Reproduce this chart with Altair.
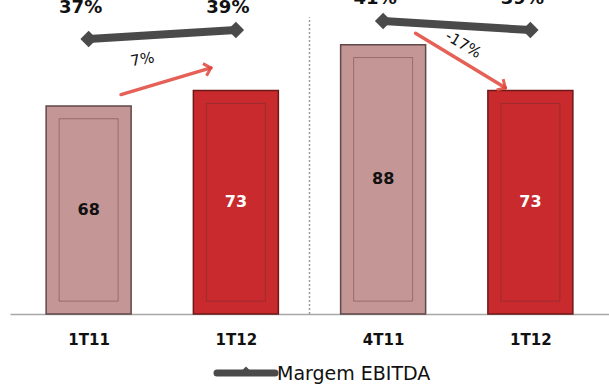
import altair as alt
import pandas as pd
import math

categories = ["1T11", "1T12", "4T11", "1T12"]
ebitda = [68, 73, 88, 73]
margin = [37, 39, 41, 39]
groups = ["A", "A", "B", "B"]
kinds = ["old", "new", "old", "new"]
change_from = [0, 2]
change_to = [1, 3]
change_labels = ["7%", "-17%"]
series_name = "Margem EBITDA"

df = pd.DataFrame({
    "pos": list(range(len(categories))),
    "ebitda": ebitda,
    "margin": margin,
    "grp": groups,
    "kind": kinds,
})

FONT = "DejaVu Sans"
W, H = 599, 314
YMAX = 102.6
XD = [-0.5, 3.5]
M_LO, M_HI = -24.1, 45.67
PX_X = W / (XD[1] - XD[0])
PX_Y = H / YMAX

label_expr = "[" + ",".join("'%s'" % c for c in categories) + "][datum.value]"
X_AXIS = alt.Axis(values=list(range(len(categories))), labelExpr=label_expr,
                  title=None, grid=False, ticks=False, domainColor="#a8a8a8",
                  domainWidth=1.5, labelFont=FONT, labelFontSize=15,
                  labelFontWeight="bold", labelColor="#111111", labelPadding=18,
                  labelFlush=False)


def X(field):
    return alt.X(field, type="quantitative", scale=alt.Scale(domain=XD, nice=False, zero=False), axis=X_AXIS)


def Y(field):
    return alt.Y(field, type="quantitative", scale=alt.Scale(domain=[0, YMAX], nice=False, zero=True), axis=None)


base = alt.Chart(df)

bars = base.mark_bar(size=85, strokeWidth=1.5).encode(
    x=X("pos"),
    y=Y("ebitda"),
    fill=alt.Fill("kind:N", scale=alt.Scale(domain=["old", "new"], range=["#c49696", "#c92a2e"]), legend=None),
    stroke=alt.Stroke("kind:N", scale=alt.Scale(domain=["old", "new"], range=["#5e4848", "#6e1818"]), legend=None),
)

inner = base.transform_calculate(
    ytop="datum.ebitda - 4.2", ybot="4.2"
).mark_bar(size=59, fillOpacity=0, strokeWidth=1, strokeOpacity=0.4, stroke="#5a3030").encode(
    x=X("pos"),
    y=Y("ytop"),
    y2="ybot:Q",
)

bar_text = base.transform_calculate(mid="datum.ebitda / 2").mark_text(
    font=FONT, fontSize=16, fontWeight="bold", baseline="middle"
).encode(
    x=X("pos"),
    y=Y("mid"),
    text="ebitda:Q",
    color=alt.condition("datum.kind == 'new'", alt.value("#ffffff"), alt.value("#111111")),
)

sep = alt.Chart(pd.DataFrame({"sx": [1.5], "sy0": [0], "sy1": [97]})).mark_rule(
    color="#9a9a9a", strokeDash=[2, 2], strokeWidth=1.5
).encode(
    x=X("sx"),
    y=Y("sy0"),
    y2="sy1:Q",
)

# change arrows (geometry derived from the bar values)
arrow_layers = []
for f, t, lab in zip(change_from, change_to, change_labels):
    vf, vt = ebitda[f], ebitda[t]
    up = vt > vf
    ax1, ax2 = f + 0.22, t - 0.17
    ay1 = vf + 3.7
    ay2 = vt + (7.4 if up else 0.9)
    mx, my_ = (ax1 + ax2) / 2, (ay1 + ay2) / 2
    ang = math.degrees(math.atan2(-(ay2 - ay1) * PX_Y, (ax2 - ax1) * PX_X))
    lx = mx - 0.16 if up else mx + 0.02
    ly = my_ + 7.2 if up else my_ + 5.3
    d = pd.DataFrame({"ax1": [ax1], "ax2": [ax2], "ay1": [ay1], "ay2": [ay2],
                      "lx": [lx], "ly": [ly], "label": [lab]})
    c = alt.Chart(d)
    arrow_layers.append(c.mark_rule(color="#e0453a", strokeWidth=3.5, opacity=0.85, strokeCap="round").encode(
        x=X("ax1"), x2="ax2:Q", y=Y("ay1"), y2="ay2:Q"))
    arrow_layers.append(c.mark_point(shape="M-1,-1L0,0L-1,1", filled=False, color="#e0453a",
                                     strokeWidth=3, size=160, opacity=0.85,
                                     angle=round((ang + 360) % 360, 2)).encode(
        x=X("ax2"), y=Y("ay2")))
    lang = ang * (0.6 if ang < 0 else 1.0)
    arrow_layers.append(c.mark_text(font=FONT, fontSize=15, color="#111111", baseline="middle",
                                    angle=round((lang + 360) % 360, 2)).encode(
        x=X("lx"), y=Y("ly"), text="label:N"))

mexpr = "(%s - (%f)) / (%f) * %f"
mbase = base.transform_joinaggregate(gmax="max(margin)", groupby=["grp"]).transform_calculate(
    my=mexpr % ("datum.margin", M_LO, M_HI - M_LO, YMAX),
    gy=mexpr % ("datum.gmax", M_LO, M_HI - M_LO, YMAX),
    lab="datum.margin + '%'",
)
mline = mbase.mark_line(strokeWidth=8, color="#4a4a4a").encode(
    x=X("pos"),
    y=Y("my"),
    detail="grp:N",
)
mpts = mbase.mark_point(shape="diamond", filled=True, size=270, opacity=1, color="#4a4a4a").encode(
    x=X("pos"),
    y=Y("my"),
)
mtext = mbase.mark_text(
    font=FONT, fontSize=18, fontWeight="bold", baseline="alphabetic", dy=-17, dx=-8, color="#111111"
).encode(
    x=X("pos"),
    y=Y("gy"),
    text="lab:N",
)

# legend (drawn below the plot area)
leg = alt.Chart(pd.DataFrame({"name": [series_name]}))
leg_line = leg.mark_rule(strokeWidth=7, color="#4a4a4a", strokeCap="round").encode(
    x=alt.value(207), x2=alt.value(265), y=alt.value(H + 59))
leg_pt = leg.mark_point(shape="diamond", filled=True, size=80, opacity=1, color="#4a4a4a").encode(
    x=alt.value(236), y=alt.value(H + 57))
leg_txt = leg.mark_text(font=FONT, fontSize=19, color="#111111", align="left", baseline="middle").encode(
    x=alt.value(267), y=alt.value(H + 60), text="name:N")

chart = alt.layer(sep, bars, inner, bar_text, *arrow_layers,
                  mline, mpts, mtext, leg_line, leg_pt, leg_txt).properties(
    width=W, height=H,
    autosize=alt.AutoSizeParams(type="none"),
    padding={"left": 10, "top": 0, "right": 0, "bottom": 71},
).configure_view(stroke=None)

chart.save("out.html", embed_options={"renderer": "svg", "actions": False})
